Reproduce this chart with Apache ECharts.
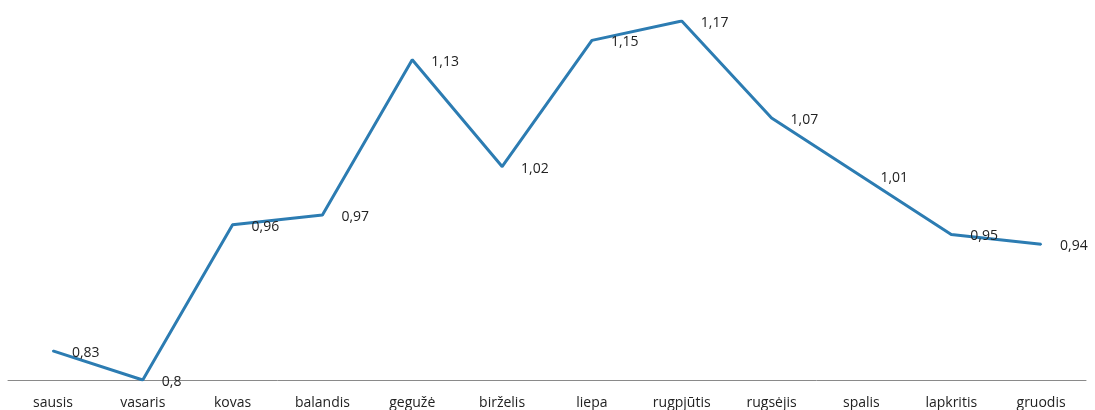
<!DOCTYPE html>
<html>
<head>
<meta charset="utf-8">
<style>
  html, body { margin: 0; padding: 0; background: #fff; }
  #chart { width: 1095px; height: 410px; }
</style>
<script src="https://cdn.jsdelivr.net/npm/echarts@6/dist/echarts.min.js"></script>
</head>
<body>
<div id="chart"></div>
<script>
// Months (Lithuanian) and the monthly values
const months = ["sausis", "vasaris", "kovas", "balandis", "gegužė", "birželis",
  "liepa", "rugpjūtis", "rugsėjis", "spalis", "lapkritis", "gruodis"];
const values = [0.83, 0.8, 0.96, 0.97, 1.13, 1.02, 1.15, 1.17, 1.07, 1.01, 0.95, 0.94];

const chart = echarts.init(document.getElementById("chart"), null, { renderer: "canvas" });

const option = {
  animation: false,
  grid: { left: 8, right: 9, top: 21, bottom: 29 },
  xAxis: {
    type: "category",
    data: months,
    axisTick: { show: false },
    axisLine: { lineStyle: { color: "#8a8a8a", width: 1 } },
    axisLabel: {
      color: "#222",
      fontFamily: "Open Sans",
      fontSize: 14,
      margin: 16
    }
  },
  yAxis: {
    type: "value",
    min: 0.8,
    max: 1.17,
    show: false
  },
  series: [
    {
      type: "line",
      data: values,
      symbol: "circle",
      symbolSize: 2,
      showSymbol: true,
      itemStyle: { color: "#2c7cb2" },
      lineStyle: { color: "#2c7cb2", width: 3 },
      label: {
        show: true,
        position: "right",
        distance: 18,
        offset: [0, 2],
        color: "#222",
        fontFamily: "Open Sans",
        fontSize: 14,
        formatter: (p) => String(p.value).replace(".", ",")
      }
    }
  ]
};

chart.setOption(option);
</script>
</body>
</html>
